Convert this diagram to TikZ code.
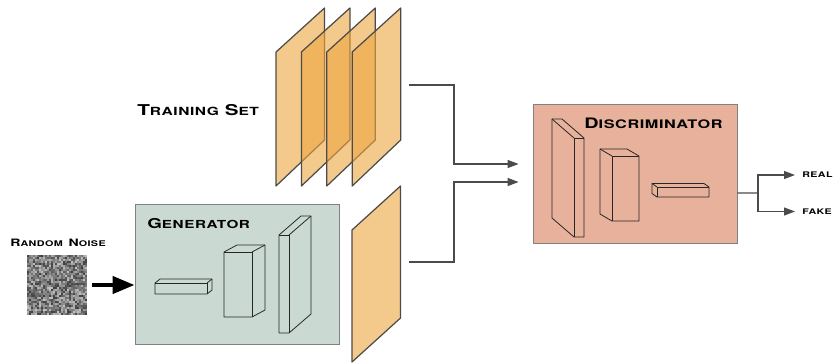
\documentclass[tikz,border=0pt]{standalone}
\usepackage{fontspec}
\usetikzlibrary{arrows.meta, calc}
\newfontfamily\capsfont[FakeStretch=1.38,LetterSpace=5]{TeX Gyre Heros Bold}

% small caps label: big size, small size, first letter, rest
\newcommand{\sclabel}[4]{{\capsfont\fontsize{#1}{#1}\selectfont #3}{\capsfont\fontsize{#2}{#2}\selectfont #4}}

% cuboid: near x, far x, top y, bottom y, depth dx, depth dy
\newcommand{\cuboid}[6]{%
  \draw[blockline] (#2,#4) -- (#2,#3) -- ($(#2,#3)+(#5,#6)$) -- ($(#1,#3)+(#5,#6)$)
    -- ($(#1,#4)+(#5,#6)$) -- (#1,#4) -- cycle;
  \draw[blockline] (#1,#3) -- (#2,#3);
  \draw[blockline] (#1,#3) -- ++(#5,#6);
  \draw[blockline] (#1,#3) -- (#1,#4);
}

\definecolor{planefill}{RGB}{237,165,63}
\definecolor{genfill}{RGB}{202,218,211}
\definecolor{discfill}{RGB}{232,177,155}
\definecolor{edgegray}{RGB}{75,75,75}

\begin{document}
\begin{tikzpicture}[x=0.02cm, y=-0.02cm,
    plane/.style={draw=edgegray, line width=0.7pt, fill=planefill, fill opacity=0.6, line join=round},
    genbox/.style={draw=edgegray!70, line width=0.5pt, fill=genfill, minimum width=4.08cm, minimum height=2.8cm},
    discbox/.style={draw=edgegray!70, line width=0.5pt, fill=discfill, minimum width=4.08cm, minimum height=2.78cm},
    blockline/.style={draw=black!85, line width=0.45pt, line join=round},
    link/.style={draw=edgegray, line width=0.7pt},
    linkarrow/.style={link, -{Triangle[length=0.22cm, width=0.16cm]}},
    bigarrow/.style={line width=2.4pt, -{Triangle[length=0.44cm, width=0.34cm]}},
    label/.style={inner sep=0pt, anchor=base west}]

  \useasboundingbox (0,0) rectangle (833,363);

  % Training set planes
  \foreach \i in {0,...,3}
    \draw[plane, xshift=\i*0.508cm] (276,52) -- (324.5,8) -- (324.5,140) -- (276,186) -- cycle;
  \node[label] (tslabel) at (137,115) {\sclabel{8.5pt}{6.4pt}{T}{RAINING} \sclabel{8.5pt}{6.4pt}{S}{ET}};

  % Generated plane
  \draw[plane] (352,230) -- (400.5,186) -- (400.5,318) -- (352,362) -- cycle;

  % Random noise
  \node[inner sep=0pt, minimum size=1.18cm] (noise) at (57,285) {};
  \pgfmathsetseed{42}
  \foreach \i in {0,...,29}{
    \foreach \j in {0,...,29}{
      \pgfmathrandominteger{\g}{25}{75}
      \fill[black!\g] ({27+2*\i},{255+2*\j}) rectangle +(2,2);
    }
  }
  \node[label] (noiselabel) at (10,246.5) {\sclabel{5.8pt}{4.45pt}{R}{ANDOM} \sclabel{5.8pt}{4.45pt}{N}{OISE}};

  % Generator
  \node[genbox] (gen) at (237,274) {};
  \node[label] (genlabel) at (147,228) {\sclabel{7.75pt}{6.3pt}{G}{ENERATOR}};
  \cuboid{207}{155}{283}{294}{5}{-4}
  \cuboid{252}{224}{252}{317}{13}{-7}
  \cuboid{289}{279}{235}{333}{22}{-19}

  \draw[bigarrow, shorten <=0.1cm] (noise.east) -- (noise.east -| gen.west);

  % Discriminator
  \node[discbox] (disc) at (635,173.5) {};
  \node[label] (disclabel) at (584,128.3) {\sclabel{8.2pt}{6.7pt}{D}{ISCRIMINATOR}};
  \cuboid{574}{584}{138}{237}{-22}{-19}
  \cuboid{612}{639}{156}{221}{-12}{-7}
  \cuboid{657}{709}{187}{197}{-5}{-3.5}

  % Connectors into the discriminator
  \coordinate (tsout) at (409,85);
  \coordinate (fakeout) at (409,262);
  \draw[linkarrow, shorten >=0.28cm] (tsout) -- ++(45,0) |- ([yshift=0.19cm]disc.west);
  \draw[linkarrow, shorten >=0.28cm] (fakeout) -- ++(45,0) |- ([yshift=-0.17cm]disc.west);

  % Outputs
  \node[inner sep=0pt, anchor=west] (real) at (802,175) {\capsfont\fontsize{4.4pt}{4.4pt}\selectfont REAL};
  \node[inner sep=0pt, anchor=west] (fake) at (802,211.5) {\capsfont\fontsize{4.4pt}{4.4pt}\selectfont FAKE};
  \coordinate (split) at (758,193);
  \draw[link] ([yshift=-0.39cm]disc.east) -- (split);
  \draw[linkarrow, shorten >=0.14cm] (split) |- (real.west);
  \draw[linkarrow, shorten >=0.14cm] (split) |- (fake.west);

\end{tikzpicture}
\end{document}
